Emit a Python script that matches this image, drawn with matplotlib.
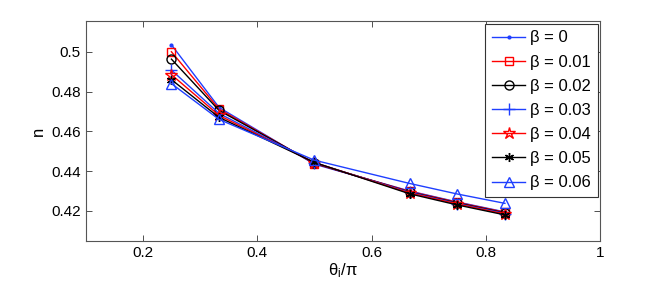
import matplotlib
matplotlib.use("Agg")
import matplotlib.pyplot as plt

plt.rcParams['font.family'] = ['Liberation Sans', 'DejaVu Sans']
plt.rcParams['mathtext.fontset'] = 'custom'
plt.rcParams['mathtext.rm'] = 'Liberation Sans'
plt.rcParams['mathtext.it'] = 'Liberation Sans'

theta = [0.25, 1/3, 0.5, 2/3, 0.75, 5/6]
labels = ['β = 0', 'β = 0.01', 'β = 0.02', 'β = 0.03', 'β = 0.04', 'β = 0.05', 'β = 0.06']
n_b0 = [0.5035, 0.4720, 0.4435, 0.4300, 0.4245, 0.4195]
n_b1 = [0.5000, 0.4712, 0.4438, 0.4298, 0.4243, 0.4193]
n_b2 = [0.4963, 0.4705, 0.4440, 0.4295, 0.4240, 0.4190]
n_b3 = [0.4908, 0.4690, 0.4442, 0.4293, 0.4237, 0.4187]
n_b4 = [0.4885, 0.4680, 0.4443, 0.4290, 0.4235, 0.4184]
n_b5 = [0.4860, 0.4670, 0.4444, 0.4286, 0.4230, 0.4180]
n_b6 = [0.4840, 0.4660, 0.4455, 0.4338, 0.4285, 0.4238]
series = [n_b0, n_b1, n_b2, n_b3, n_b4, n_b5, n_b6]

styles = [
    dict(color='#1f3fff', marker='.', ms=4),
    dict(color='#ff0000', marker='s', ms=6, mfc='none'),
    dict(color='#000000', marker='o', ms=6.5, mfc='none'),
    dict(color='#1f3fff', marker='+', ms=8),
    dict(color='#ff0000', marker='*', ms=9, mfc='none'),
    dict(color='#000000', marker=(6, 2, 0), ms=6.5),
    dict(color='#1f3fff', marker='^', ms=7, mfc='none'),
]

fig = plt.figure(figsize=(6.64, 2.88), dpi=100)
ax = fig.add_axes([0.129, 0.164, 0.775, 0.762])
for y, lab, st in zip(series, labels, styles):
    ax.plot(theta, y, lw=1.0, label=lab, mew=1.0, **st)

ax.set_xlim(0.1, 1.0)
ax.set_ylim(0.405, 0.5153)
ax.set_xticks([0.2, 0.4, 0.6, 0.8, 1.0])
ax.set_xticklabels(['0.2', '0.4', '0.6', '0.8', '1'])
ax.set_yticks([0.42, 0.44, 0.46, 0.48, 0.5])
ax.set_yticklabels(['0.42', '0.44', '0.46', '0.48', '0.5'])
ax.tick_params(direction='in', top=True, right=True, length=4, width=0.6,
               labelsize=11, colors='#333333', labelcolor='black')
for sp in ax.spines.values():
    sp.set_color('#555555')
    sp.set_linewidth(0.8)
ax.set_xlabel(r'$\mathregular{\theta_i/\pi}$', fontsize=12, labelpad=1)
ax.set_ylabel('n', fontsize=12, labelpad=4)

leg = ax.legend(loc='upper right', fontsize=12, handlelength=2.0, handletextpad=0.3,
                borderpad=0.4, labelspacing=0.55, borderaxespad=0.15, fancybox=False,
                framealpha=1, edgecolor='#333333')
leg.get_frame().set_linewidth(0.8)

fig.savefig('out.png', dpi=100)
